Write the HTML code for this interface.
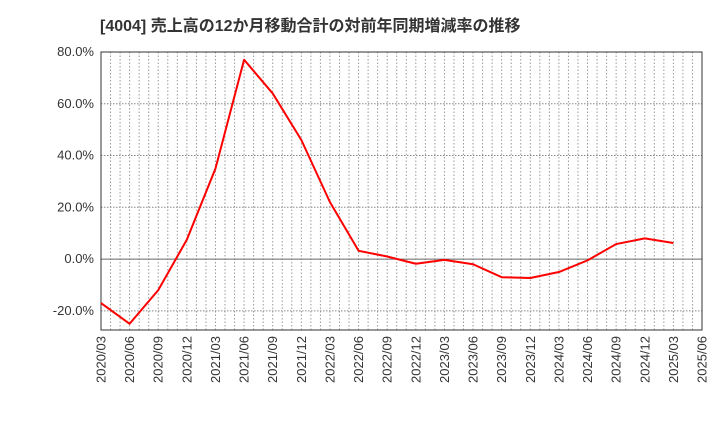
<!DOCTYPE html>
<html><head><meta charset="utf-8"><style>
body{margin:0;background:#fff;font-family:"Liberation Sans","Noto Sans CJK JP",sans-serif;}
</style></head><body>
<svg id="c" width="720" height="440" xmlns="http://www.w3.org/2000/svg">
<text x="100" y="31" font-size="16" font-weight="bold" fill="#333">[4004]  売上高の12か月移動合計の対前年同期増減率の推移</text>
<g id="grid"></g><g id="axes"></g><g id="series"></g>
</svg>
<script>
const categories=["2020/03","2020/06","2020/09","2020/12","2021/03","2021/06","2021/09","2021/12","2022/03","2022/06","2022/09","2022/12","2023/03","2023/06","2023/09","2023/12","2024/03","2024/06","2024/09","2024/12","2025/03","2025/06"];
const values=[-17,-25,-12,7.5,35,77,64,46,22,3.2,1,-1.8,-0.3,-2,-7,-7.3,-5,-0.5,5.8,8,6.2];
const yTicks=[-20,0,20,40,60,80];
const yTickLabels=["-20.0%","0.0%","20.0%","40.0%","60.0%","80.0%"];
const L=101,R=702,T=52,B=330,yMax=80,yMin=-27.4;
const NS="http://www.w3.org/2000/svg";
const x=i=>L+(R-L)*i/(categories.length-1);
const y=v=>T+(yMax-v)/(yMax-yMin)*(B-T);
function mk(p,t,a){const e=document.createElementNS(NS,t);for(const k in a)e.setAttribute(k,a[k]);p.appendChild(e);return e;}
const g=document.getElementById('grid'),ax=document.getElementById('axes'),s=document.getElementById('series');
const nM=(categories.length-1)*3;
for(let m=1;m<nM;m++){const xx=L+(R-L)*m/nM;
const ln=mk(g,'line',{x1:xx,x2:xx,y1:T,y2:B,stroke:'#999','stroke-dasharray':'1.5,2','stroke-width':1});

}
yTicks.forEach((v,i)=>{const yy=y(v);
const ln=mk(g,'line',{x1:L,x2:R,y1:yy,y2:yy,stroke:v===0?'#666':'#888','stroke-dasharray':v===0?'none':'1.5,1.5','stroke-width':1});


const t=mk(ax,'text',{x:L-7,y:yy+4,'text-anchor':'end','font-size':13,fill:'#333'});t.textContent=yTickLabels[i];

});
const fr=mk(ax,'rect',{x:L,y:T,width:R-L,height:B-T,fill:'none',stroke:'#333','stroke-width':1});


categories.forEach((c,i)=>{const xx=x(i);
const t=mk(ax,'text',{x:0,y:0,transform:`translate(${xx+4.5},${B+6}) rotate(-90)`,'text-anchor':'end','font-size':13,fill:'#333'});t.textContent=c;

});
const pl=mk(s,'polyline',{points:values.map((v,i)=>x(i)+','+y(v)).join(' '),fill:'none',stroke:'#f00','stroke-width':2,'stroke-linejoin':'round'});


</script>
</body></html>
